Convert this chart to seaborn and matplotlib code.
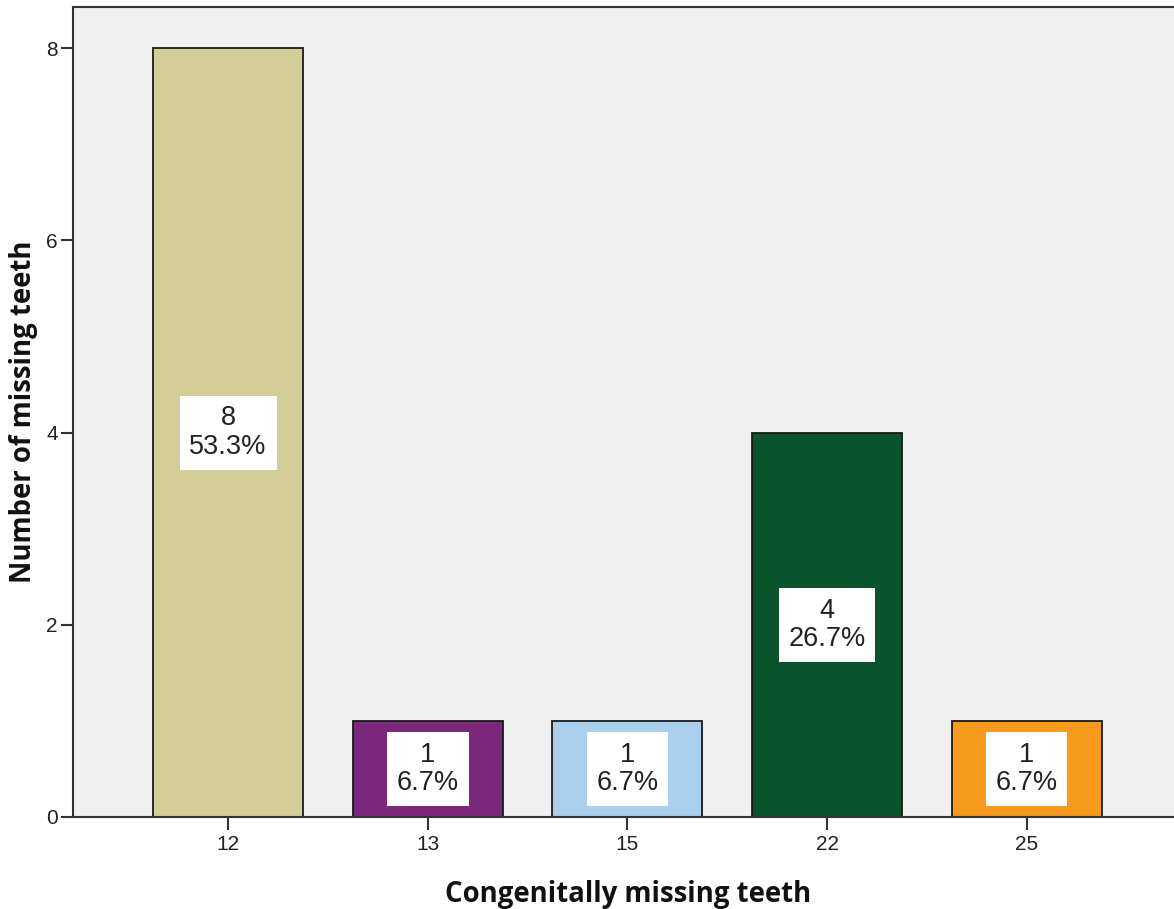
import matplotlib
matplotlib.use("Agg")
import matplotlib.pyplot as plt
import seaborn as sns
import pandas as pd

categories = ["12", "13", "15", "22", "25"]
counts = [8, 1, 1, 4, 1]
percents = ["53.3%", "6.7%", "6.7%", "26.7%", "6.7%"]
colors = ["#D3CE97", "#7B277B", "#AACFEC", "#0B532B", "#F89A1E"]
y_ticks = [0, 2, 4, 6, 8]

sns.set_style("white")
plt.rcParams["font.family"] = ["Liberation Sans", "DejaVu Sans"]

df = pd.DataFrame({"tooth": categories, "count": counts})

fig = plt.figure(figsize=(11.74, 9.09), dpi=100)
ax = fig.add_axes([73 / 1174, 1 - 817 / 909, 1 - 73 / 1174 + 0.001, (817 - 7) / 909])
ax.set_facecolor("#F0F0F0")

sns.barplot(data=df, x="tooth", y="count", hue="tooth", palette=colors,
            order=categories, hue_order=categories, legend=False,
            width=0.752, edgecolor="#1a1a1a", linewidth=1.3, ax=ax, saturation=1)

for i, (c, p) in enumerate(zip(counts, percents)):
    ax.text(i, c / 2, f"{c}\n{p}", ha="center", va="center", fontsize=19.5,
            color="#222222", linespacing=1.12,
            bbox=dict(boxstyle="square,pad=0.36", fc="white", ec="none"))

ax.set_xlim(-0.777, 4.744)
ax.set_ylim(0, 8.43)
ax.set_yticks(y_ticks)
ax.set_yticklabels([str(t) for t in y_ticks])

for side in ["left", "bottom", "top"]:
    ax.spines[side].set_visible(True)
    ax.spines[side].set_color("#333333")
    ax.spines[side].set_linewidth(1.5)
ax.spines["right"].set_visible(False)

ax.tick_params(axis="both", which="both", direction="out", length=9, width=1.5,
               color="#333333", labelsize=15, labelcolor="#222222")
ax.tick_params(axis="x", bottom=True, pad=4)
ax.tick_params(axis="y", left=True, pad=2)

ax.set_xlabel("Congenitally missing teeth", fontsize=19.8, fontweight="bold",
              family=["Open Sans", "DejaVu Sans"], color="#111111")
ax.set_ylabel("Number of missing teeth", fontsize=19.8, fontweight="bold",
              family=["Open Sans", "DejaVu Sans"], color="#111111")
ax.xaxis.set_label_coords((627.5 - 73) / 1101, -(902 - 817) / 810)
ax.yaxis.set_label_coords(-(73 - 38) / 1101, 0.5)
ax.xaxis.label.set_va("baseline")

fig.savefig("out.png", dpi=100, facecolor="white")
